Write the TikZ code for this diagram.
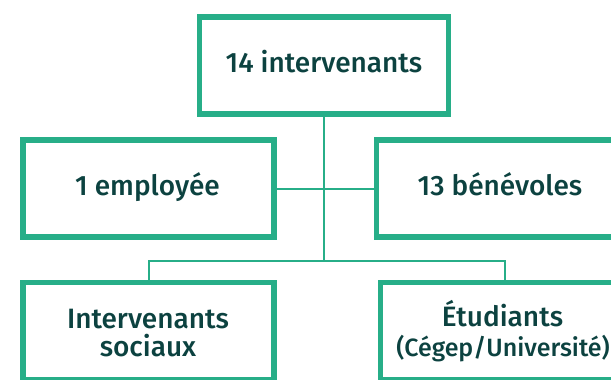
\documentclass[tikz,border=0pt]{standalone}
\usepackage{fontspec}
\setmainfont{Fira Sans}[UprightFont=* Medium]
\definecolor{boxgreen}{RGB}{39,174,136}
\definecolor{txt}{RGB}{12,66,64}
\begin{document}
\begin{tikzpicture}[x=0.75pt,y=-0.75pt,
  box/.style={draw=boxgreen,line width=4.125pt,rectangle,inner sep=0pt,minimum height=73.1pt},
  conn/.style={draw=boxgreen,line width=1.5pt},
  lbl/.style={text=txt,font=\fontsize{21pt}{25pt}\selectfont,inner sep=0pt,anchor=base},
  sublbl/.style={text=txt,font=\fontsize{18.75pt}{22pt}\selectfont,inner sep=0pt,anchor=base}]
\useasboundingbox (0,0) rectangle (611,379);
\node[box,minimum width=187.1pt] (top) at (324,65.5) {};
\node[box,minimum width=188.6pt] (emp) at (148.5,188.5) {};
\node[box,minimum width=188.6pt] (ben) at (502,188.5) {};
\node[box,minimum width=188.6pt,minimum height=72.4pt] (bl) at (148.5,331) {};
\node[box,minimum width=186.4pt,minimum height=72.4pt] (br) at (505,331) {};
\coordinate (hub) at (324,260.7);
\draw[conn] (top.south) -- (hub);
\draw[conn] (emp.east) -- (ben.west);
\draw[conn] (bl.north) |- (hub) -| (br.north);
\node[lbl] (t1) at (324,72.7) {14 intervenants};
\node[lbl] (t2) at (147.5,195) {1 employée};
\node[lbl] (t3) at (500,195) {13 bénévoles};
\node[lbl] (t4) at (148,328.3) {Intervenants};
\node[lbl] (t5) at (148,356.7) {sociaux};
\node[lbl] (t6) at (502.5,326.7) {Étudiants};
\node[sublbl] (t7) at (503,356.7) {(Cégep/Université)};
\end{tikzpicture}
\end{document}
